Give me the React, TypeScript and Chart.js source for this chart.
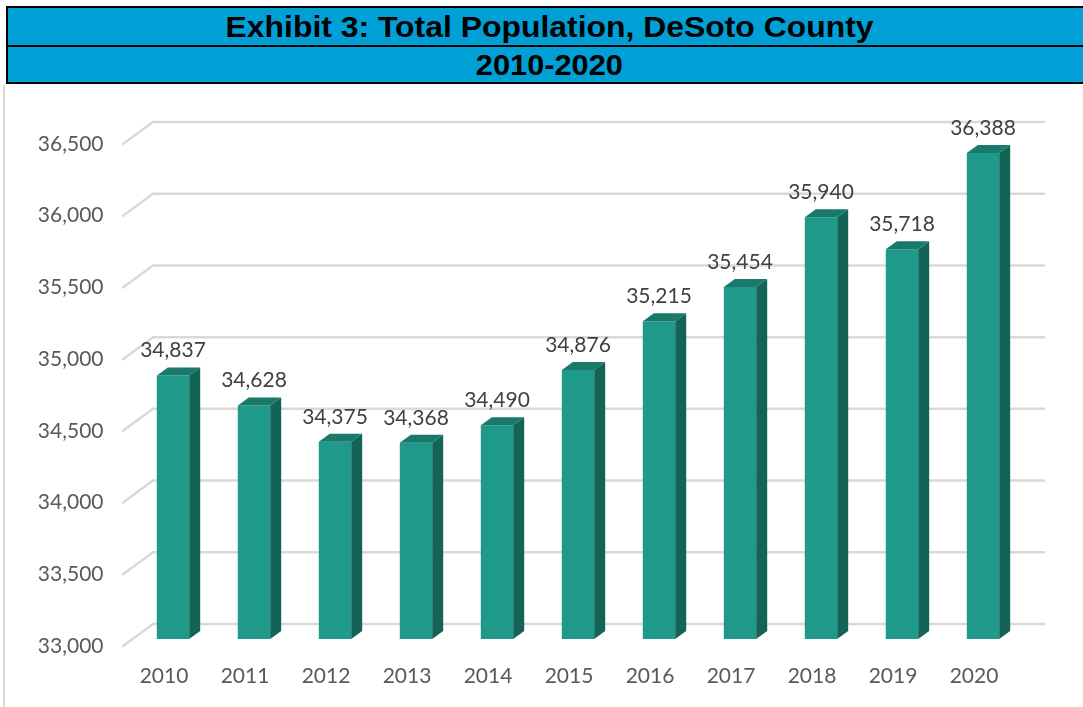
import React, { useEffect, useRef } from "react";
import { Chart, registerables } from "chart.js";

Chart.register(...registerables);

const years = ["2010", "2011", "2012", "2013", "2014", "2015", "2016", "2017", "2018", "2019", "2020"];
const population = [34837, 34628, 34375, 34368, 34490, 34876, 35215, 35454, 35940, 35718, 36388];
const yMin = 33000;
const yMax = 36500;
const yStep = 500;
const titleLine1 = "Exhibit 3: Total Population, DeSoto County";
const titleLine2 = "2010-2020";

const FRONT = "#1f9a8a";
const SIDE = "#136457";
const TOP = "#197a6b";
const GRID = "#d9d9d9";
const FONT = "Lato";

// depth offsets relative to the bar front plane
const BACK_DX = 20.5;
const BACK_DY = -15;
const FRONT_DX = -9.5;
const FRONT_DY = 7;
const BAR_DX = 11;
const BAR_DY = -8;

const fmt = (v: number) => v.toLocaleString("en-US");

const threeD = {
  id: "threeD",
  beforeDatasetsDraw(chart: any) {
    const { ctx, chartArea, scales } = chart;
    const y = scales.y;
    ctx.save();
    ctx.strokeStyle = GRID;
    ctx.lineWidth = 2.5;
    ctx.lineCap = "round";
    y.ticks.forEach((t: any) => {
      const py = y.getPixelForValue(t.value);
      ctx.beginPath();
      ctx.moveTo(chartArea.left + FRONT_DX, py + FRONT_DY);
      ctx.lineTo(chartArea.left + BACK_DX, py + BACK_DY);
      ctx.lineTo(chartArea.right + BACK_DX, py + BACK_DY);
      ctx.stroke();
    });
    ctx.restore();
  },
  afterDatasetsDraw(chart: any) {
    const { ctx, scales } = chart;
    const meta = chart.getDatasetMeta(0);
    const base = scales.y.getPixelForValue(yMin);
    ctx.save();
    meta.data.forEach((bar: any, i: number) => {
      const x = bar.x;
      const y = bar.y;
      const width = bar.width;
      const l = x - width / 2;
      const r = x + width / 2;
      ctx.fillStyle = SIDE;
      ctx.beginPath();
      ctx.moveTo(r, y);
      ctx.lineTo(r + BAR_DX, y + BAR_DY);
      ctx.lineTo(r + BAR_DX, base + BAR_DY);
      ctx.lineTo(r, base);
      ctx.closePath();
      ctx.fill();
      ctx.fillStyle = TOP;
      ctx.beginPath();
      ctx.moveTo(l, y);
      ctx.lineTo(l + BAR_DX, y + BAR_DY);
      ctx.lineTo(r + BAR_DX, y + BAR_DY);
      ctx.lineTo(r, y);
      ctx.closePath();
      ctx.fill();
      ctx.fillStyle = "#404040";
      ctx.font = `21px ${FONT}`;
      ctx.textAlign = "center";
      ctx.textBaseline = "middle";
      ctx.fillText(fmt(population[i]), x, y - 25);
    });
    ctx.restore();
  },
};

export default function App() {
  const ref = useRef<HTMLCanvasElement>(null);
  useEffect(() => {
    document.body.style.margin = "0";
    const chart = new Chart(ref.current!, {
      type: "bar",
      data: {
        labels: years,
        datasets: [
          {
            data: population,
            backgroundColor: FRONT,
            borderWidth: 0,
            categoryPercentage: 1,
            barPercentage: 0.4,
          },
        ],
      },
      options: {
        animation: false,
        responsive: true,
        maintainAspectRatio: false,
        layout: { padding: { left: 0, top: 137, right: 59.5, bottom: 0 } },
        plugins: { legend: { display: false }, tooltip: { enabled: false }, title: { display: false } },
        scales: {
          x: {
            grid: { display: false, drawTicks: false },
            border: { display: false },
            ticks: {
              color: "#595959",
              font: { family: FONT, size: 21 },
              labelOffset: -9,
              padding: 25,
              maxRotation: 0,
            },
            afterFit: (s: any) => {
              s.height = 68;
            },
          },
          y: {
            min: yMin,
            max: yMax,
            grid: { display: false, drawTicks: false },
            border: { display: false },
            ticks: {
              stepSize: yStep,
              color: "#595959",
              font: { family: FONT, size: 21 },
              padding: 29,
              labelOffset: 7,
              callback: (v: any) => fmt(Number(v)),
            },
            afterFit: (s: any) => {
              s.width = 132.5;
            },
          },
        },
      },
      plugins: [threeD],
    });
    return () => chart.destroy();
  }, []);

  return (
    <div style={{ position: "fixed", left: 0, top: 0, width: 1083, height: 707, background: "#fff", overflow: "hidden" }}>
      <div style={{ position: "absolute", left: 0, top: 0, width: 1083, height: 707 }}>
        <canvas ref={ref} />
      </div>
      <div style={{ position: "absolute", left: 3, top: 85, width: 2, height: 622, background: "#d9d9d9" }} />
      <div
        style={{
          position: "absolute",
          left: 6,
          top: 6,
          width: 1087,
          boxSizing: "border-box",
          border: "2px solid #000",
          background: "#009fd6",
          fontFamily: "'Liberation Sans', Arial, sans-serif",
          fontWeight: "bold",
          color: "#000",
          textAlign: "center",
        }}
      >
        <div style={{ height: 37, lineHeight: "39px", fontSize: 29, borderBottom: "2px solid #000" }}>
          <span style={{ display: "inline-block", transform: "scaleX(1.1)" }}>{titleLine1}</span>
        </div>
        <div style={{ height: 35, lineHeight: "37px", fontSize: 29 }}>
          <span style={{ display: "inline-block", transform: "scaleX(1.06)" }}>{titleLine2}</span>
        </div>
      </div>
    </div>
  );
}
